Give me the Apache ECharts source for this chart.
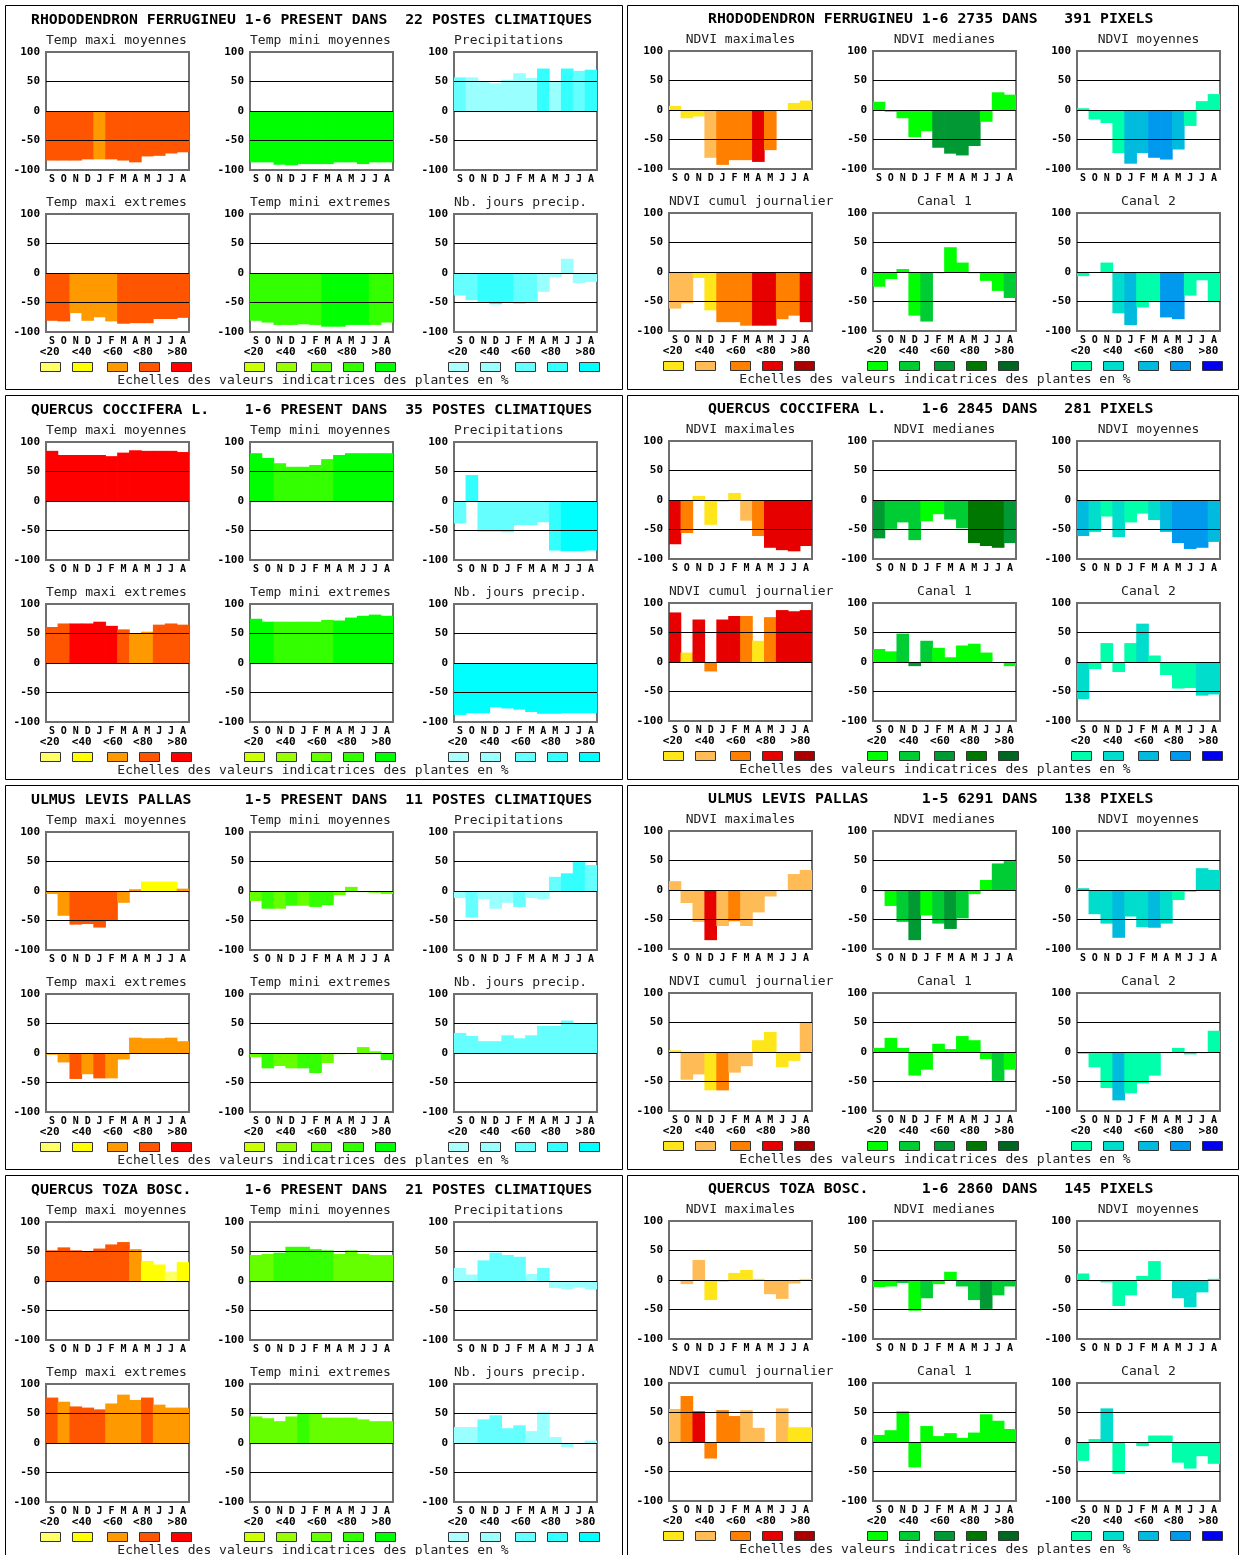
<!DOCTYPE html>
<html><head><meta charset="utf-8">
<script src="https://cdn.jsdelivr.net/npm/echarts@6/dist/echarts.min.js"></script>
<style>html,body{margin:0;padding:0;background:#fff}#c{width:1239px;height:1555px}</style>
</head><body><div id="c"></div>
<script>
// ---------- shared labels ----------
const months = ['S','O','N','D','J','F','M','A','M','J','J','A'];
const gridLines = [50, 0, -50];
const classLabels = ['<20','<40','<60','<80','>80'];
const legendNote = 'Echelles des valeurs indicatrices des plantes en %';
const climateSubtitles = ['Temp maxi moyennes','Temp mini moyennes','Precipitations','Temp maxi extremes','Temp mini extremes','Nb. jours precip.'];
const ndviSubtitles = ['NDVI maximales','NDVI medianes','NDVI moyennes','NDVI cumul journalier','Canal 1','Canal 2'];
const panelTitles = [
  'RHODODENDRON FERRUGINEU 1-6 PRESENT DANS  22 POSTES CLIMATIQUES',
  'RHODODENDRON FERRUGINEU 1-6 2735 DANS   391 PIXELS',
  'QUERCUS COCCIFERA L.    1-6 PRESENT DANS  35 POSTES CLIMATIQUES',
  'QUERCUS COCCIFERA L.    1-6 2845 DANS   281 PIXELS',
  'ULMUS LEVIS PALLAS      1-5 PRESENT DANS  11 POSTES CLIMATIQUES',
  'ULMUS LEVIS PALLAS      1-5 6291 DANS   138 PIXELS',
  'QUERCUS TOZA BOSC.      1-6 PRESENT DANS  21 POSTES CLIMATIQUES',
  'QUERCUS TOZA BOSC.      1-6 2860 DANS   145 PIXELS'
];

// ---------- palettes (class 0..4 = <20,<40,<60,<80,>80) ----------
const palTmax = ['#FFFF66','#FFFF00','#FF9900','#FF5500','#FF0000'];
const palTmin = ['#CCFF00','#99FF00','#66FF00','#33FF00','#00FF00'];
const palPrec = ['#ABFFFF','#99FFFF','#66FFFF','#33FFFF','#00FFFF'];
const palNdviMax = ['#FFE61A','#FFBB55','#FF7F00','#E60000','#AA0000'];
const palNdviMed = ['#00FF00','#00CC33','#009933','#007700','#006622'];
const palNdviMoy = ['#00FFAA','#00DDCC','#00BBDD','#0099EE','#0000EE'];

// ---------- values (6 charts per panel, 12 months each) and colour classes ----------
const rhodoClimVals = [
  [-84,-84,-84,-82,-82,-82,-84,-87,-77,-76,-72,-70],
  [-87,-87,-91,-92,-90,-90,-90,-87,-87,-90,-87,-87],
  [57,57,49,47,53,64,56,72,50,72,68,70],
  [-81,-82,-68,-81,-75,-82,-86,-85,-85,-78,-78,-76],
  [-81,-84,-88,-88,-87,-88,-91,-91,-88,-88,-88,-84],
  [-38,-46,-49,-53,-49,-52,-49,-32,-7,24,-17,-15]
];
const rhodoClimCls = [
  [3,3,3,3,2,3,3,3,3,3,3,3],
  [4,4,4,4,4,4,4,4,4,4,4,4],
  [2,1,1,1,1,1,1,3,1,3,2,3],
  [3,3,2,2,2,2,3,3,3,3,3,3],
  [3,3,3,3,3,3,4,4,4,4,3,3],
  [2,2,3,3,3,2,2,1,1,1,1,1]
];
const rhodoNdviVals = [
  [7,-14,-11,-81,-93,-85,-85,-88,-68,-2,12,16],
  [14,-3,-14,-46,-36,-64,-74,-77,-61,-20,30,26],
  [3,-16,-22,-73,-91,-73,-81,-84,-67,-27,15,27],
  [-62,-53,-10,-65,-85,-85,-91,-91,-91,-80,-74,-85],
  [-25,-12,5,-74,-84,-2,42,16,-2,-15,-32,-44],
  [-7,0,16,-70,-90,-60,-49,-77,-80,-40,-14,-51]
];
const rhodoNdviCls = [
  [0,0,0,1,2,2,2,3,2,0,0,0],
  [0,0,0,0,0,2,2,2,2,0,0,0],
  [0,0,0,0,2,2,3,3,2,0,0,0],
  [1,1,0,0,2,2,2,3,3,2,2,3],
  [0,0,0,0,1,0,0,0,0,0,0,1],
  [0,0,0,1,2,0,0,3,3,0,0,0]
];
const coccClimVals = [
  [85,78,78,78,78,76,82,86,85,85,85,83],
  [81,73,64,58,58,61,71,78,81,81,81,81],
  [-38,44,-52,-52,-53,-41,-41,-36,-84,-85,-85,-84],
  [61,67,67,67,70,63,57,50,53,65,67,65],
  [75,70,70,70,70,70,73,72,77,80,82,80],
  [-88,-85,-85,-75,-77,-79,-83,-86,-86,-85,-85,-85]
];
const coccClimCls = [
  [4,4,4,4,4,4,4,4,4,4,4,4],
  [4,4,3,3,3,3,3,4,4,4,4,4],
  [2,3,2,2,2,2,2,2,3,4,4,4],
  [3,3,4,4,4,4,3,2,2,3,3,3],
  [4,4,3,3,3,3,3,4,4,4,4,4],
  [4,4,4,4,4,4,4,4,4,4,4,4]
];
const coccNdviVals = [
  [-75,-56,7,-42,-3,12,-35,-61,-81,-85,-87,-78],
  [-65,-49,-38,-68,-36,-24,-33,-48,-73,-78,-81,-73],
  [-61,-54,-28,-63,-38,-23,-34,-54,-73,-83,-81,-71],
  [84,16,72,-16,72,78,78,36,76,88,86,88],
  [22,18,48,-7,36,24,8,28,31,16,0,-7],
  [-63,-12,32,-17,32,65,11,-22,-45,-44,-57,-55]
];
const coccNdviCls = [
  [3,2,0,0,0,0,1,2,3,3,3,3],
  [2,1,1,1,0,0,1,1,3,3,3,2],
  [2,1,0,1,0,0,1,2,3,3,3,2],
  [3,0,3,2,3,3,2,0,2,3,3,3],
  [0,0,1,2,1,0,0,0,0,0,0,0],
  [1,0,0,0,0,1,0,0,0,0,1,1]
];
const ulmusClimVals = [
  [-5,-42,-57,-56,-62,-51,-20,3,16,16,16,4],
  [-17,-30,-30,-25,-25,-27,-24,-7,7,-2,-3,-5],
  [-12,-45,-14,-30,-20,-27,-12,-14,24,30,49,44],
  [-3,-16,-44,-36,-43,-43,-11,26,25,25,26,20],
  [-7,-26,-22,-26,-26,-34,-17,-2,0,10,3,-12],
  [34,29,20,20,30,25,30,46,46,55,50,51]
];
const ulmusClimCls = [
  [2,2,3,3,3,3,2,2,1,1,1,2],
  [2,3,2,3,2,3,3,2,2,2,2,2],
  [1,2,1,1,1,2,1,1,2,3,3,2],
  [2,2,3,2,3,2,2,2,2,2,2,2],
  [2,3,2,2,3,3,2,2,2,2,2,3],
  [2,2,2,2,2,2,2,2,2,2,2,2]
];
const ulmusNdviVals = [
  [15,-22,-54,-85,-61,-53,-61,-38,-11,-2,27,34],
  [-2,-27,-54,-85,-43,-57,-66,-48,-7,17,45,49],
  [3,-41,-57,-81,-45,-63,-64,-57,-17,-3,37,34],
  [3,-47,-38,-65,-65,-35,-24,20,34,-26,-15,50],
  [7,24,7,-40,-30,14,5,27,20,-12,-49,-30],
  [-3,-26,-61,-82,-70,-53,-40,-2,7,-4,-2,36]
];
const ulmusNdviCls = [
  [1,1,1,3,1,2,1,1,1,1,1,1],
  [0,0,1,2,0,1,2,1,0,0,1,1],
  [1,1,1,2,1,1,2,1,0,0,1,1],
  [0,1,1,0,2,1,1,0,0,0,0,1],
  [0,0,0,0,0,0,0,0,0,0,1,0],
  [0,0,0,2,0,0,0,0,0,0,0,0]
];
const tozaClimVals = [
  [52,57,52,50,55,62,66,54,34,28,16,32],
  [44,46,48,58,58,54,52,46,52,46,44,44],
  [22,11,35,48,44,41,12,22,-12,-14,-11,-14],
  [77,70,62,60,57,67,82,73,77,65,60,60],
  [45,42,37,45,50,50,43,43,43,40,37,37],
  [27,27,40,47,25,30,20,52,10,-7,0,4]
];
const tozaClimCls = [
  [3,3,3,3,3,3,3,2,1,1,0,1],
  [2,2,3,3,3,3,3,2,2,2,2,2],
  [1,1,2,2,2,2,1,2,1,1,1,1],
  [3,2,3,3,3,2,2,2,3,2,2,2],
  [2,2,2,2,3,2,2,2,2,2,2,2],
  [1,1,2,2,2,2,1,1,1,1,1,1]
];
const tozaNdviVals = [
  [0,-7,34,-34,-3,12,17,2,-24,-32,-6,2],
  [-12,-11,-5,-52,-31,-7,14,-11,-34,-49,-26,-11],
  [11,-2,-4,-44,-26,7,32,0,-31,-46,-21,2],
  [56,78,52,-28,54,44,54,24,0,57,25,25],
  [12,20,52,-43,27,10,15,7,16,47,36,22],
  [-32,5,57,-54,0,-7,11,11,-35,-45,-24,-37]
];
const tozaNdviCls = [
  [0,1,1,0,0,0,0,0,1,1,1,0],
  [0,0,1,0,1,0,0,1,1,2,1,1],
  [0,0,0,0,0,0,0,0,1,1,1,0],
  [1,2,3,2,2,2,1,1,1,1,0,0],
  [0,0,0,0,0,0,0,0,0,0,0,0],
  [0,0,1,0,0,0,0,0,0,0,0,0]
];

// ---------- assemble ----------
const climPals = [palTmax, palTmin, palPrec];
const ndviPals = [palNdviMax, palNdviMed, palNdviMoy];
const panels = [
  {vals: rhodoClimVals, cls: rhodoClimCls, subs: climateSubtitles, pals: climPals},
  {vals: rhodoNdviVals, cls: rhodoNdviCls, subs: ndviSubtitles, pals: ndviPals},
  {vals: coccClimVals, cls: coccClimCls, subs: climateSubtitles, pals: climPals},
  {vals: coccNdviVals, cls: coccNdviCls, subs: ndviSubtitles, pals: ndviPals},
  {vals: ulmusClimVals, cls: ulmusClimCls, subs: climateSubtitles, pals: climPals},
  {vals: ulmusNdviVals, cls: ulmusNdviCls, subs: ndviSubtitles, pals: ndviPals},
  {vals: tozaClimVals, cls: tozaClimCls, subs: climateSubtitles, pals: climPals},
  {vals: tozaNdviVals, cls: tozaNdviCls, subs: ndviSubtitles, pals: ndviPals}
];

const MONO = '"DejaVu Sans Mono", "Liberation Mono", monospace';
const grids = [], xAxes = [], yAxes = [], series = [], graphics = [];

function txt(x, y, text, font, align, fill) {
  return {type: 'text', x: x, y: y, silent: true, z: 10,
    style: {text: text, font: font, fill: fill || '#000', textAlign: align || 'left', align: align || 'left',
            textVerticalAlign: 'middle', verticalAlign: 'middle'}};
}

panels.forEach((p, pi) => {
  const col = pi % 2, row = Math.floor(pi / 2);
  const B = 5 + row * 390;
  const yOff = col ? -1 : 0;
  const lefts = col ? [669, 873, 1077] : [46, 250, 454];
  graphics.push({type: 'rect', silent: true, z: 1,
    shape: {x: col ? 627.5 : 5.5, y: B + 0.5, width: col ? 611 : 617, height: 384},
    style: {fill: 'none', stroke: '#000', lineWidth: 1}});
  graphics.push(txt(col ? 708 : 31, B + 15 + yOff, panelTitles[pi], 'bold 14.8px ' + MONO));
  for (let k = 0; k < 6; k++) {
    const r = Math.floor(k / 3), c = k % 3;
    const left = lefts[c];
    const top = B + (r ? 209 : 47) + yOff;
    const idx = grids.length;
    grids.push({left: left, top: top, width: 143, height: 118, show: true,
      borderColor: '#6e6e6e', borderWidth: 2, backgroundColor: '#fff'});
    xAxes.push({type: 'category', gridIndex: idx, data: months,
      axisLine: {show: false, onZero: false}, axisTick: {show: false}, splitLine: {show: false},
      axisLabel: {interval: 0, margin: 4, color: '#000', fontSize: 10, fontWeight: 'bold', fontFamily: MONO}});
    yAxes.push({type: 'value', gridIndex: idx, min: -100, max: 100, interval: 50,
      axisLine: {show: false}, axisTick: {show: false}, splitLine: {show: false},
      axisLabel: {margin: 6, color: '#000', fontSize: 11, fontWeight: 'bold', fontFamily: MONO}});
    const pal = p.pals[c];
    series.push({type: 'bar', xAxisIndex: idx, yAxisIndex: idx, barCategoryGap: '-6%',
      animation: false, silent: true,
      data: p.vals[k].map((v, j) => ({value: v, itemStyle: {color: pal[p.cls[k][j]]}})),
      markLine: {silent: true, symbol: 'none', animation: false, label: {show: false},
        lineStyle: {color: '#000', width: 1, type: 'solid'},
        emphasis: {disabled: true},
        data: gridLines.map(v => ({yAxis: v}))}});
    // subtitle
    const sub = p.subs[k];
    let sx = left, sa = 'left';
    if (col === 1 && sub !== 'NDVI cumul journalier') { sx = left + 71.5; sa = 'center'; }
    graphics.push(txt(sx, top - 11, sub, '13px ' + MONO, sa, '#222'));
  }
  // legends under each column
  const boxOff = [-6, 25.7, 61, 93, 124.7];
  const labOff = [3.7, 35.7, 67, 97, 131.5];
  for (let c = 0; c < 3; c++) {
    const left = lefts[c];
    for (let q = 0; q < 5; q++) {
      graphics.push(txt(left + labOff[q], B + 347 + yOff, classLabels[q], 'bold 11px ' + MONO, 'center'));
      graphics.push({type: 'rect', silent: true, z: 10,
        shape: {x: Math.round(left + boxOff[q]) + 0.5, y: B + 357.5 + yOff, width: 20, height: 9},
        style: {fill: p.pals[c][q], stroke: '#333', lineWidth: 1}});
    }
  }
  graphics.push(txt(col ? 935 : 313, B + 376 + yOff, legendNote, '13px ' + MONO, 'center', '#222'));
});

const chart = echarts.init(document.getElementById('c'), null, {renderer: 'canvas', width: 1239, height: 1555});
chart.setOption({
  animation: false,
  backgroundColor: '#fff',
  grid: grids, xAxis: xAxes, yAxis: yAxes, series: series,
  graphic: {elements: graphics}
});
</script></body></html>
